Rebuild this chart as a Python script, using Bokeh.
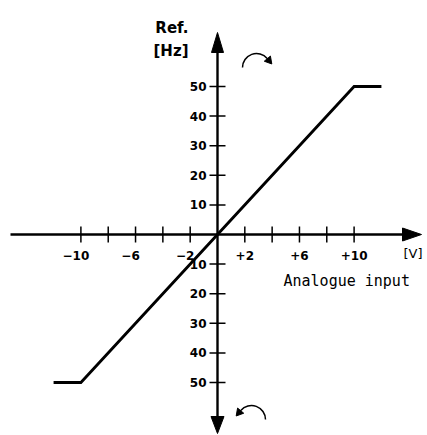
from bokeh.plotting import figure
from bokeh.models import Range1d
from bokeh.core.properties import value
from bokeh.embed import file_html
from bokeh.resources import INLINE
import math

# ---- data ----
voltage = [-12, -10, 10, 12]          # analogue input [V]
frequency = [-50, -50, 50, 50]        # reference [Hz]
x_ticks = [-10, -8, -6, -4, -2, 2, 4, 6, 8, 10]
x_label_pos = [-10, -6, -2, 2, 6, 10]
x_tick_labels = ["\u221210", "\u22126", "\u22122", "+2", "+6", "+10"]
y_ticks = [50, 40, 30, 20, 10, -10, -20, -30, -40, -50]
y_tick_labels = ["50", "40", "30", "20", "10", "10", "20", "30", "40", "50"]

# ---- layout (page pixels -> data units) ----
W, H = 427, 435
M = 0
OX, OY = 217, 234
PXV, PXH = 13.66, 2.96


def X(px):
    return (px - OX) / PXV


def Y(py):
    return (OY - py) / PXH


p = figure(width=W, height=H, output_backend="svg", toolbar_location=None,
           x_range=Range1d(X(M), X(M + W)), y_range=Range1d(Y(M + H), Y(M)),
           min_border=0, x_axis_type=None, y_axis_type=None)
p.outline_line_color = None
p.grid.visible = False
p.background_fill_color = "white"
p.border_fill_color = "white"

# axes lines
p.segment(x0=[X(10)], y0=[0], x1=[X(404)], y1=[0], line_color="black", line_width=2.4)
p.segment(x0=[0], y0=[Y(50)], x1=[0], y1=[Y(416)], line_color="black", line_width=2.4)
# arrow heads
p.patches(xs=[[X(OX - 6), X(OX + 6), X(OX)], [X(OX - 6.5), X(OX + 6.5), X(OX)], [X(402), X(402), X(421)]],
          ys=[[Y(52), Y(52), Y(32)], [Y(416), Y(416), Y(433)], [Y(OY - 6.5), Y(OY + 6.5), Y(OY)]],
          fill_color="black", line_color="black", line_width=1)

# ticks
p.segment(x0=x_ticks, y0=[Y(OY + 8)] * len(x_ticks), x1=x_ticks, y1=[Y(OY - 8)] * len(x_ticks),
          line_color="black", line_width=1.5)
p.segment(x0=[X(OX - 8)] * len(y_ticks), y0=y_ticks, x1=[X(OX + 8)] * len(y_ticks), y1=y_ticks,
          line_color="black", line_width=1.5)

# tick labels
x_offsets = [-5 if t < 0 else 0 for t in x_label_pos]
p.text(x=x_label_pos, y=[Y(255)] * len(x_label_pos), text=x_tick_labels, x_offset=x_offsets,
       text_align="center", text_baseline="alphabetic", text_font=value("DejaVu Sans"),
       text_font_style="bold", text_font_size="12px", text_color="black")
p.text(x=[X(206)] * len(y_ticks), y=y_ticks, text=y_tick_labels,
       text_align="right", text_baseline="middle", text_font=value("DejaVu Sans"),
       text_font_style="bold", text_font_size="12px", text_color="black")

# data line
p.line(voltage, frequency, line_color="black", line_width=2.8, line_join="miter")

# axis titles
p.text(x=[X(188), X(188)], y=[Y(27), Y(50)], text=["Ref.", "[Hz]"],
       text_align="right", text_baseline="alphabetic", text_font=value("DejaVu Sans"),
       text_font_style="bold", text_font_size="15px", text_color="black")
p.text(x=[X(422)], y=[Y(253)], text=["[V]"], text_align="right", text_baseline="alphabetic",
       text_font=value("DejaVu Sans"), text_font_size="13px", text_color="black")
p.text(x=[X(283)], y=[Y(280)], text=["Analogue input"], text_align="left",
       text_baseline="alphabetic", text_font=value("DejaVu Sans Mono"), text_font_size="15px",
       text_color="black")

# rotation arrows
for cx, cy, a0, a1, end_ang, direction in [(256, 67, 40, 180, 40, -1), (251, 419, 0, 140, 140, 1)]:
    p.arc(x=[X(cx)], y=[Y(cy)], radius=14, radius_units="screen",
          start_angle=math.radians(a0), end_angle=math.radians(a1),
          line_color="black", line_width=1.5)
    ea = math.radians(end_ang)
    ex, ey = cx + 14 * math.cos(ea), cy - 14 * math.sin(ea)
    if direction < 0:   # clockwise travel (screen)
        dx, dy = math.sin(ea), math.cos(ea)
    else:               # counter-clockwise travel (screen)
        dx, dy = -math.sin(ea), -math.cos(ea)
    mx, my = ex + 2.5 * dx, ey + 2.5 * dy
    ang = math.degrees(math.atan2(-dy, dx)) - 90
    p.scatter(x=[X(mx)], y=[Y(my)], marker="triangle", size=8, angle=ang, angle_units="deg",
              fill_color="black", line_color="black")

open("out.html", "w").write(file_html(p, INLINE))
